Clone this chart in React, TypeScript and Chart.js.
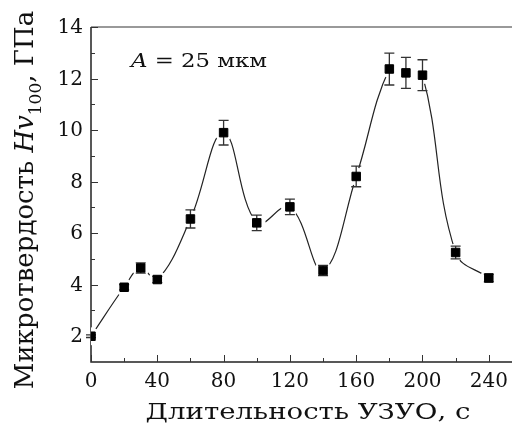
import React, { useEffect, useRef } from "react";
import { Chart, registerables } from "chart.js";
Chart.register(...registerables);

// ---- data ----
const DURATION = [0, 20, 30, 40, 60, 80, 100, 120, 140, 160, 180, 190, 200, 220, 240];
const HARDNESS = [2.0, 3.9, 4.65, 4.2, 6.55, 9.9, 6.4, 7.02, 4.55, 8.2, 12.37, 12.22, 12.13, 5.25, 4.26];
const ERROR = [0.05, 0.1, 0.2, 0.12, 0.35, 0.48, 0.3, 0.3, 0.2, 0.4, 0.62, 0.6, 0.6, 0.25, 0.15];
const X_TICKS = [0, 40, 80, 120, 160, 200, 240];
const X_MINOR = [20, 60, 100, 140, 180, 220];
const Y_TICKS = [2, 4, 6, 8, 10, 12, 14];
const Y_MINOR = [3, 5, 7, 9, 11, 13];
const X_MIN = 0;
const X_MAX = 254;
const Y_MIN = 1;
const Y_MAX = 14;
const X_TITLE = "Длительность УЗУО, с";
const Y_TITLE_PARTS = ["Микротвердость ", "Hv", "100", ", ГПа"];
const NOTE_PARTS = ["A", " = 25 мкм"];

const SERIF = '"DejaVu Serif", serif';

const customDraw = {
  id: "customDraw",
  beforeDatasetsDraw(chart: any) {
    const { ctx, chartArea: a, scales } = chart;
    const xs = scales.x;
    const ys = scales.y;
    ctx.save();
    // frame
    ctx.strokeStyle = "#222";
    ctx.lineWidth = 1.5;
    ctx.beginPath();
    ctx.moveTo(a.left, a.top);
    ctx.lineTo(a.left, a.bottom);
    ctx.lineTo(a.right, a.bottom);
    ctx.stroke();
    ctx.strokeStyle = "#777";
    ctx.lineWidth = 1.5;
    ctx.beginPath();
    ctx.moveTo(a.left, a.top);
    ctx.lineTo(a.right, a.top);
    ctx.stroke();
    // ticks (inward)
    ctx.strokeStyle = "#333";
    ctx.lineWidth = 1;
    ctx.beginPath();
    X_TICKS.forEach((v) => {
      const p = Math.round(xs.getPixelForValue(v)) + 0.5;
      ctx.moveTo(p, a.bottom);
      ctx.lineTo(p, a.bottom - 7);
    });
    X_MINOR.forEach((v) => {
      const p = Math.round(xs.getPixelForValue(v)) + 0.5;
      ctx.moveTo(p, a.bottom);
      ctx.lineTo(p, a.bottom - 4);
    });
    Y_TICKS.forEach((v) => {
      const p = Math.round(ys.getPixelForValue(v)) + 0.5;
      ctx.moveTo(a.left, p);
      ctx.lineTo(a.left + 7, p);
    });
    Y_MINOR.forEach((v) => {
      const p = Math.round(ys.getPixelForValue(v)) + 0.5;
      ctx.moveTo(a.left, p);
      ctx.lineTo(a.left + 4, p);
    });
    ctx.stroke();
    ctx.restore();
  },
  afterDatasetDraw(chart: any, args: any) {
    if (args.index !== 1) return;
    const { ctx, scales } = chart;
    const xs = scales.x;
    const ys = scales.y;
    ctx.save();
    ctx.strokeStyle = "#333";
    ctx.lineWidth = 1.3;
    ctx.beginPath();
    DURATION.forEach((d, i) => {
      const x = xs.getPixelForValue(d);
      const yt = ys.getPixelForValue(HARDNESS[i] + ERROR[i]);
      const yb = ys.getPixelForValue(HARDNESS[i] - ERROR[i]);
      ctx.moveTo(x, yt);
      ctx.lineTo(x, yb);
      ctx.moveTo(x - 5, yt);
      ctx.lineTo(x + 5, yt);
      ctx.moveTo(x - 5, yb);
      ctx.lineTo(x + 5, yb);
    });
    ctx.stroke();
    ctx.restore();
  },
  afterDraw(chart: any) {
    const { ctx, chartArea: a, scales } = chart;
    const xs = scales.x;
    const ys = scales.y;
    ctx.save();
    ctx.fillStyle = "#111";
    ctx.font = `20px ${SERIF}`;
    // x tick labels
    ctx.textAlign = "center";
    ctx.textBaseline = "alphabetic";
    X_TICKS.forEach((v) => {
      ctx.fillText(String(v), xs.getPixelForValue(v), a.bottom + 25);
    });
    // y tick labels
    ctx.textAlign = "right";
    ctx.textBaseline = "middle";
    Y_TICKS.forEach((v) => {
      ctx.fillText(String(v), a.left - 8, ys.getPixelForValue(v) + 1);
    });

    // x title (slightly widened to match the reference face)
    ctx.save();
    ctx.font = `23px ${SERIF}`;
    ctx.textAlign = "center";
    ctx.textBaseline = "alphabetic";
    ctx.translate(308, 419);
    ctx.scale(1.2, 1);
    ctx.fillText(X_TITLE, 0, 0);
    ctx.restore();

    // y title with italic + subscript
    const fonts = [`26px ${SERIF}`, `italic 26px ${SERIF}`, `17px ${SERIF}`, `26px ${SERIF}`];
    const offs = [0, 0, 8, 0];
    ctx.save();
    const widths = Y_TITLE_PARTS.map((t, i) => {
      ctx.font = fonts[i];
      return ctx.measureText(t).width;
    });
    const total = widths.reduce((s, w) => s + w, 0);
    ctx.translate(33, 200);
    ctx.rotate(-Math.PI / 2);
    ctx.textAlign = "left";
    ctx.textBaseline = "alphabetic";
    let pos = -total / 2;
    Y_TITLE_PARTS.forEach((t, i) => {
      ctx.font = fonts[i];
      ctx.fillText(t, pos, offs[i]);
      pos += widths[i];
    });
    ctx.restore();

    // annotation
    ctx.save();
    ctx.textAlign = "left";
    ctx.textBaseline = "alphabetic";
    ctx.translate(131, 67);
    ctx.scale(1.2, 1);
    ctx.font = `italic 19px ${SERIF}`;
    ctx.fillText(NOTE_PARTS[0], 0, 0);
    const w0 = ctx.measureText(NOTE_PARTS[0]).width;
    ctx.font = `19px ${SERIF}`;
    ctx.fillText(NOTE_PARTS[1], w0, 0);
    ctx.restore();
    ctx.restore();
  },
};

export default function App() {
  const ref = useRef<HTMLCanvasElement | null>(null);
  useEffect(() => {
    if (!ref.current) return;
    const points = DURATION.map((d, i) => ({ x: d, y: HARDNESS[i] }));
    const chart = new Chart(ref.current, {
      type: "line",
      data: {
        datasets: [
          {
            data: points,
            borderColor: "#222",
            borderWidth: 1.2,
            tension: 0.4,
            pointRadius: 0,
            fill: false,
            order: 3,
          },
          {
            data: points,
            showLine: false,
            pointRadius: 9,
            pointStyle: "circle",
            pointBackgroundColor: "#fff",
            pointBorderWidth: 0,
            borderColor: "#fff",
            order: 2,
          },
          {
            data: points,
            showLine: false,
            pointRadius: 6,
            pointStyle: "rect",
            pointBackgroundColor: "#000",
            pointBorderColor: "#000",
            pointBorderWidth: 1,
            borderColor: "#000",
            order: 1,
          },
        ],
      },
      options: {
        animation: false,
        responsive: false,
        devicePixelRatio: 1,
        layout: { padding: { left: 91, right: 0, top: 27, bottom: 64 } },
        plugins: { legend: { display: false }, tooltip: { enabled: false } },
        events: [],
        scales: {
          x: { type: "linear", min: X_MIN, max: X_MAX, display: false },
          y: { type: "linear", min: Y_MIN, max: Y_MAX, display: false },
        },
      },
      plugins: [customDraw],
    });
    return () => chart.destroy();
  }, []);
  return (
    <div style={{ position: "fixed", left: 0, top: 0, width: 521, height: 426, background: "#fff" }}>
      <canvas ref={ref} width={521} height={426} />
    </div>
  );
}
